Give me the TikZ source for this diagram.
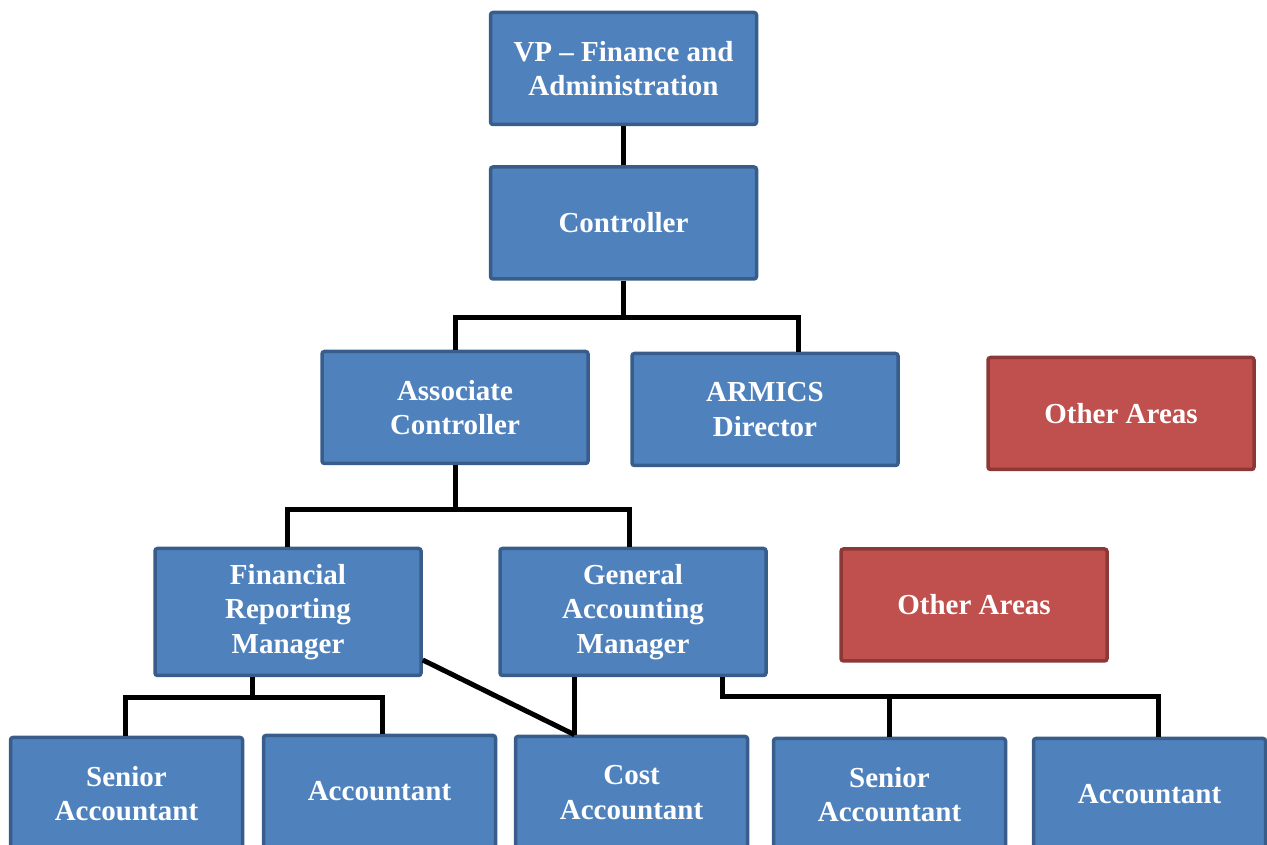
\documentclass[tikz,border=0pt]{standalone}
\usepackage{fontspec}
\setmainfont{Liberation Serif}
\definecolor{boxblue}{HTML}{4F81BD}
\definecolor{boxblueedge}{HTML}{385D8A}
\definecolor{boxred}{HTML}{C0504D}
\definecolor{boxrededge}{HTML}{8C3836}
\tikzset{
  orgbox/.style={draw=boxblueedge, fill=boxblue, line width=3.5pt, rounded corners=2.5pt,
    text=white, align=center, inner sep=2pt,
    font=\fontsize{29}{34.5}\selectfont\bfseries},
  wide/.style={minimum width=266pt, minimum height=112pt},
  tall/.style={minimum width=266pt, minimum height=127pt},
  small/.style={minimum width=232pt, minimum height=112pt},
  redbox/.style={orgbox, draw=boxrededge, fill=boxred},
  link/.style={draw=black, line width=5pt, line join=miter}
}
\begin{document}
\begin{tikzpicture}[x=1pt,y=1pt]
\path[use as bounding box, clip] (0,0) rectangle (1267,845);
% nodes
\node[orgbox, wide] (vp) at (623.5,776.5) {VP -- Finance and\\Administration};
\node[orgbox, wide] (ctrl) at (623.5,622) {Controller};
\node[orgbox, wide] (assoc) at (455,437.5) {Associate\\Controller};
\node[orgbox, wide] (armics) at (765,435.5) {ARMICS\\Director};
\node[redbox, wide] (oa1) at (1121,431.5) {Other Areas};
\node[orgbox, tall] (frm) at (288,233) {Financial\\Reporting\\Manager};
\node[orgbox, tall] (gam) at (633,233) {General\\Accounting\\Manager};
\node[redbox, wide] (oa2) at (974,240) {Other Areas};
\node[orgbox, small] (sa1) at (126.5,51.5) {Senior\\Accountant};
\node[orgbox, small] (acc1) at (379.5,53.5) {Accountant};
\node[orgbox, small] (cost) at (631.5,52.5) {Cost\\Accountant};
\node[orgbox, small] (sa2) at (889.5,50.5) {Senior\\Accountant};
\node[orgbox, small] (acc2) at (1149.5,50.5) {Accountant};
% connectors
\draw[link] (vp.south) -- (ctrl.north);
\coordinate (j1) at (623.5,527);
\draw[link] (ctrl.south) -- (j1);
\draw[link] (assoc.north) -- (assoc.north |- j1) -- ([xshift=33]armics.north |- j1) -- ([xshift=33]armics.north);
\coordinate (j2) at (455,335);
\draw[link] (assoc.south) -- (j2);
\draw[link] ([xshift=-1]frm.north) -- ([xshift=-1]frm.north |- j2) -- ([xshift=-4]gam.north |- j2) -- ([xshift=-4]gam.north);
\coordinate (j3) at (252,147);
\draw[link] ([xshift=-36]frm.south) -- (j3);
\draw[link] ([xshift=-1.5]sa1.north) -- ([xshift=-1.5]sa1.north |- j3) -- ([xshift=2.5]acc1.north |- j3) -- ([xshift=2.5]acc1.north);
\coordinate (ct) at ([xshift=-57]cost.north);
\draw[link] (gam.south -| ct) -- (ct);
\draw[link] ([yshift=-48]frm.east) -- (ct);
\coordinate (j4) at ([xshift=89]gam.south);
\draw[link] (j4) -- (j4 |- 0,148) -- ([xshift=8.5]acc2.north |- 0,148) -- ([xshift=8.5]acc2.north);
\draw[link] (sa2.north) -- (sa2.north |- 0,148);
\end{tikzpicture}
\end{document}
